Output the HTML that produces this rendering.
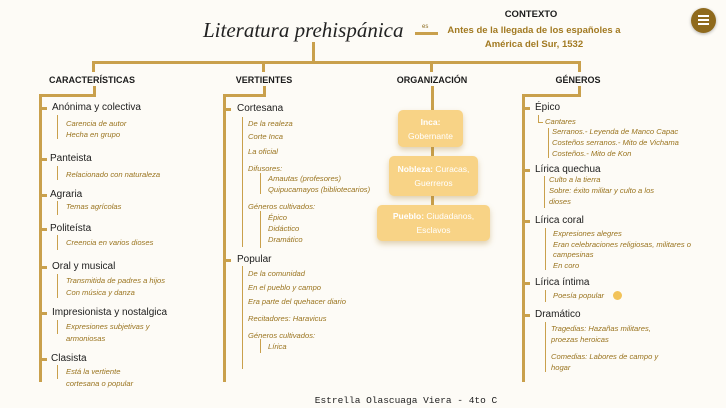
<!DOCTYPE html>
<html><head><meta charset="utf-8"><style>
*{margin:0;padding:0;box-sizing:border-box}
body{width:726px;height:408px;background:#fdfbf6;position:relative;overflow:hidden;font-family:"Liberation Sans",sans-serif}
.l{position:absolute;background:#c9a04c}
.t{position:absolute;white-space:nowrap;line-height:1}
.h{font-weight:bold;font-size:9px;color:#1c1c1c;transform:translateX(-50%)}
.m{font-size:10px;color:#1c1c1c}
.s{font-size:7.6px;font-style:italic;color:#9a741f}
.b{position:absolute;background:#f8d386;border-radius:5px;box-shadow:0 3px 6px rgba(170,130,50,.35);color:#fff;font-size:8.5px;text-align:center;line-height:14px;display:flex;align-items:center;justify-content:center}
.b b{font-weight:bold}
</style></head><body>
<div class="t" style="left:203px;top:20px;font-family:'Liberation Serif',serif;font-style:italic;font-size:21px;color:#222">Literatura prehispánica</div>
<div class="t" style="left:422px;top:24px;font-size:6px;color:#8a6a1e">es</div>
<div class="l" style="left:415px;top:32px;width:23px;height:3px"></div>
<div class="t h" style="left:531px;top:10px;font-size:9.5px">CONTEXTO</div>
<div class="t" style="left:534px;top:24px;transform:translateX(-50%);font-size:9.5px;color:#a27a22;font-weight:bold;text-align:center;line-height:14px">Antes de la llegada de los españoles a<br>América del Sur, 1532</div>
<div style="position:absolute;left:691px;top:8px;width:25px;height:25px;border-radius:50%;background:#8f6a1d;box-shadow:0 1px 3px rgba(0,0,0,.3)"></div>
<div style="position:absolute;left:698px;top:15px;width:11px;height:1.5px;background:#fff;box-shadow:0 4px 0 #fff,0 8px 0 #fff"></div>
<!-- trunk -->
<div class="l" style="left:312px;top:42px;width:3px;height:20px"></div>
<div class="l" style="left:92px;top:61px;width:489px;height:3px"></div>
<div class="l" style="left:92px;top:61px;width:3px;height:11px"></div>
<div class="l" style="left:262px;top:61px;width:3px;height:11px"></div>
<div class="l" style="left:430px;top:61px;width:3px;height:11px"></div>
<div class="l" style="left:578px;top:61px;width:3px;height:11px"></div>
<div class="t h" style="left:92px;top:76px">CARACTERÍSTICAS</div>
<div class="t h" style="left:264px;top:76px">VERTIENTES</div>
<div class="t h" style="left:432px;top:76px">ORGANIZACIÓN</div>
<div class="t h" style="left:578px;top:76px">GÉNEROS</div>
<!-- col1 -->
<div class="l" style="left:93px;top:86px;width:3px;height:10px"></div>
<div class="l" style="left:39px;top:94px;width:57px;height:3px"></div>
<div class="l" style="left:39px;top:94px;width:3px;height:288px"></div>
<div class="l" style="left:39px;top:107px;width:8px;height:3px"></div><div class="t m" style="left:52px;top:103px">Anónima y colectiva</div>
<div class="l" style="left:57px;top:115px;width:1px;height:24px"></div>
<div class="t s" style="left:66px;top:120px">Carencia de autor</div><div class="t s" style="left:66px;top:131px">Hecha en grupo</div>
<div class="l" style="left:39px;top:158px;width:8px;height:3px"></div><div class="t m" style="left:50px;top:154px">Panteista</div>
<div class="l" style="left:57px;top:166px;width:1px;height:14px"></div><div class="t s" style="left:66px;top:171px">Relacionado con naturaleza</div>
<div class="l" style="left:39px;top:194px;width:8px;height:3px"></div><div class="t m" style="left:50px;top:190px">Agraria</div>
<div class="l" style="left:57px;top:201px;width:1px;height:14px"></div><div class="t s" style="left:66px;top:203px">Temas agrícolas</div>
<div class="l" style="left:39px;top:228px;width:8px;height:3px"></div><div class="t m" style="left:50px;top:224px">Politeísta</div>
<div class="l" style="left:57px;top:235px;width:1px;height:15px"></div><div class="t s" style="left:66px;top:239px">Creencia en varios dioses</div>
<div class="l" style="left:39px;top:266px;width:8px;height:3px"></div><div class="t m" style="left:52px;top:262px">Oral y musical</div>
<div class="l" style="left:57px;top:274px;width:1px;height:24px"></div>
<div class="t s" style="left:66px;top:277px">Transmitida de padres a hijos</div><div class="t s" style="left:66px;top:289px">Con música y danza</div>
<div class="l" style="left:39px;top:312px;width:8px;height:3px"></div><div class="t m" style="left:52px;top:308px">Impresionista y nostalgica</div>
<div class="l" style="left:57px;top:320px;width:1px;height:14px"></div>
<div class="t s" style="left:66px;top:323px">Expresiones subjetivas y</div><div class="t s" style="left:66px;top:335px">armoniosas</div>
<div class="l" style="left:39px;top:358px;width:8px;height:3px"></div><div class="t m" style="left:51px;top:354px">Clasista</div>
<div class="l" style="left:57px;top:365px;width:1px;height:14px"></div>
<div class="t s" style="left:66px;top:368px">Está la vertiente</div><div class="t s" style="left:66px;top:380px">cortesana o popular</div>
<!-- col2 -->
<div class="l" style="left:263px;top:86px;width:3px;height:10px"></div>
<div class="l" style="left:223px;top:94px;width:43px;height:3px"></div>
<div class="l" style="left:223px;top:94px;width:3px;height:288px"></div>
<div class="l" style="left:223px;top:108px;width:8px;height:3px"></div><div class="t m" style="left:237px;top:104px">Cortesana</div>
<div class="l" style="left:242px;top:117px;width:1px;height:130px"></div>
<div class="t s" style="left:248px;top:120px">De la realeza</div>
<div class="t s" style="left:248px;top:133px">Corte Inca</div>
<div class="t s" style="left:248px;top:148px">La oficial</div>
<div class="t s" style="left:248px;top:165px">Difusores:</div>
<div class="l" style="left:260px;top:173px;width:1px;height:21px"></div>
<div class="t s" style="left:268px;top:175px">Amautas (profesores)</div>
<div class="t s" style="left:268px;top:186px">Quipucamayos (bibliotecarios)</div>
<div class="t s" style="left:248px;top:203px">Géneros cultivados:</div>
<div class="l" style="left:260px;top:211px;width:1px;height:37px"></div>
<div class="t s" style="left:268px;top:214px">Épico</div>
<div class="t s" style="left:268px;top:225px">Didáctico</div>
<div class="t s" style="left:268px;top:236px">Dramático</div>
<div class="l" style="left:223px;top:259px;width:8px;height:3px"></div><div class="t m" style="left:237px;top:255px">Popular</div>
<div class="l" style="left:242px;top:266px;width:1px;height:103px"></div>
<div class="t s" style="left:248px;top:270px">De la comunidad</div>
<div class="t s" style="left:248px;top:284px">En el pueblo y campo</div>
<div class="t s" style="left:248px;top:298px">Era parte del quehacer diario</div>
<div class="t s" style="left:248px;top:315px">Recitadores: Haravicus</div>
<div class="t s" style="left:248px;top:332px">Géneros cultivados:</div>
<div class="l" style="left:260px;top:339px;width:1px;height:14px"></div>
<div class="t s" style="left:268px;top:343px">Lírica</div>
<!-- col3 -->
<div class="l" style="left:431px;top:86px;width:3px;height:124px"></div>
<div class="b" style="left:398px;top:110px;width:65px;height:37px"><span><b>Inca:</b><br>Gobernante</span></div>
<div class="b" style="left:389px;top:156px;width:89px;height:40px"><span><b>Nobleza:</b> Curacas,<br>Guerreros</span></div>
<div class="b" style="left:377px;top:205px;width:113px;height:36px"><span><b>Pueblo:</b> Ciudadanos,<br>Esclavos</span></div>
<!-- col4 -->
<div class="l" style="left:578px;top:86px;width:3px;height:10px"></div>
<div class="l" style="left:522px;top:94px;width:59px;height:3px"></div>
<div class="l" style="left:522px;top:94px;width:3px;height:288px"></div>
<div class="l" style="left:522px;top:107px;width:8px;height:3px"></div><div class="t m" style="left:535px;top:103px">Épico</div>
<div class="l" style="left:538px;top:115px;width:1px;height:7px"></div><div class="l" style="left:538px;top:122px;width:5px;height:1px"></div>
<div class="t s" style="left:545px;top:118px">Cantares</div>
<div class="l" style="left:548px;top:128px;width:1px;height:30px"></div>
<div class="t s" style="left:552px;top:128px">Serranos.- Leyenda de Manco Capac</div>
<div class="t s" style="left:552px;top:139px">Costeños serranos.- Mito de Vichama</div>
<div class="t s" style="left:552px;top:150px">Costeños.- Mito de Kon</div>
<div class="l" style="left:522px;top:169px;width:8px;height:3px"></div><div class="t m" style="left:535px;top:165px">Lírica quechua</div>
<div class="l" style="left:544px;top:176px;width:1px;height:32px"></div>
<div class="t s" style="left:549px;top:176px">Culto a la tierra</div>
<div class="t s" style="left:549px;top:187px">Sobre: éxito militar y culto a los</div>
<div class="t s" style="left:549px;top:198px">dioses</div>
<div class="l" style="left:522px;top:220px;width:8px;height:3px"></div><div class="t m" style="left:535px;top:216px">Lírica coral</div>
<div class="l" style="left:545px;top:228px;width:1px;height:42px"></div>
<div class="t s" style="left:553px;top:230px">Expresiones alegres</div>
<div class="t s" style="left:553px;top:241px">Eran celebraciones religiosas, militares o</div>
<div class="t s" style="left:553px;top:251px">campesinas</div>
<div class="t s" style="left:553px;top:262px">En coro</div>
<div class="l" style="left:522px;top:282px;width:8px;height:3px"></div><div class="t m" style="left:535px;top:278px">Lírica íntima</div>
<div class="l" style="left:545px;top:290px;width:1px;height:12px"></div>
<div class="t s" style="left:553px;top:292px">Poesía popular</div>
<div style="position:absolute;left:613px;top:291px;width:9px;height:9px;border-radius:50%;background:#f2c35a"></div>
<div class="l" style="left:522px;top:314px;width:8px;height:3px"></div><div class="t m" style="left:535px;top:310px">Dramático</div>
<div class="l" style="left:545px;top:322px;width:1px;height:50px"></div>
<div class="t s" style="left:551px;top:325px">Tragedias: Hazañas militares,</div>
<div class="t s" style="left:551px;top:336px">proezas heroicas</div>
<div class="t s" style="left:551px;top:353px">Comedias: Labores de campo y</div>
<div class="t s" style="left:551px;top:364px">hogar</div>
<div class="t" style="left:406px;top:396px;transform:translateX(-50%);font-family:'Liberation Mono',monospace;font-size:9.5px;color:#222">Estrella Olascuaga Viera - 4to C</div>
</body></html>
